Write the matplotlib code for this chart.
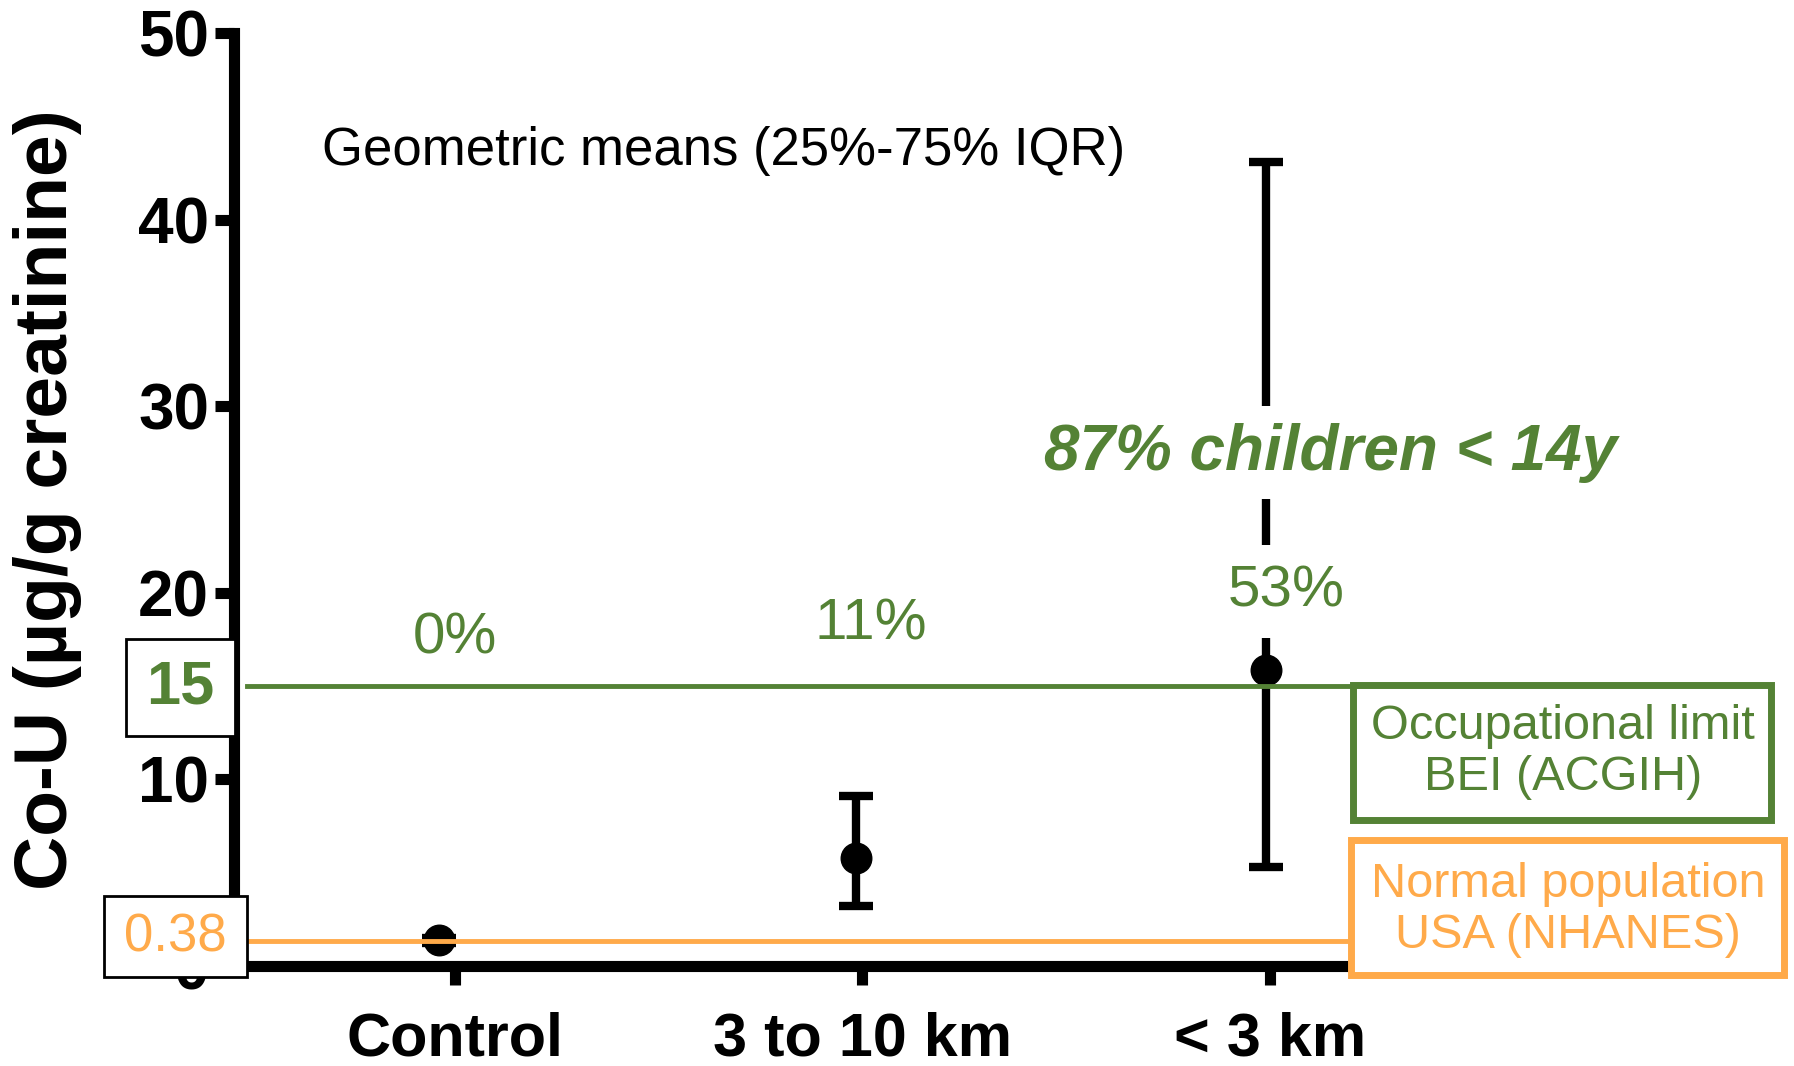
import matplotlib
matplotlib.use('Agg')
import matplotlib.pyplot as plt
from matplotlib.patches import Rectangle
import numpy as np

plt.rcParams['font.family'] = ['Liberation Sans', 'DejaVu Sans']

# данные (геометрические средние и IQR)
groups = ['Control', '3 to 10 km', '< 3 km']
geo_means = [1.37, 5.8, 15.84]
q25 = [1.25, 3.23, 5.3]
q75 = [1.5, 9.13, 43.1]
x_shift = [-0.04, -0.015, -0.01]
pct_labels = ['0%', '11%', '53%']
pct_x = [0.0, 1.02, 2.04]
pct_y = [17.56, 18.3, 20.07]
yticks = [0, 10, 20, 30, 40, 50]
bei_limit = 15
nhanes_label = '0.38'
nhanes_y = 1.35

green = '#548235'
orange = '#FFAA4A'
W, H = 1794, 1066

fig = plt.figure(figsize=(W / 100, H / 100), dpi=100)
ax = fig.add_axes([234 / W, 0.0938, 0.7057, 0.8752])

x = np.arange(len(groups)) + np.array(x_shift)
m = np.array(geo_means)
err = [m - np.array(q25), np.array(q75) - m]
ax.errorbar(x, m, yerr=err, fmt='o', color='black', ms=22,
            elinewidth=6, capsize=12, capthick=6, zorder=3)

# линии: BEI и NHANES
ax.plot([-0.51, 2.3], [bei_limit, bei_limit], color=green, lw=3.5,
        clip_on=False, zorder=4)
ax.plot([-0.51, 2.3], [nhanes_y, nhanes_y], color=orange, lw=3.5,
        clip_on=False, zorder=4)

# подписи процентов (белый фон разрывает планку погрешности)
for px, py, t in zip(pct_x, pct_y, pct_labels):
    pad = 14 if t == '53%' else 1
    ax.text(px, py, t, color=green, fontsize=42, ha='center', va='center',
            zorder=5, bbox=dict(fc='white', ec='none', pad=pad))
ax.text(2.15, 27.5, '87% children < 14y', color=green, fontsize=46,
        fontweight='bold', fontstyle='italic', ha='center', va='center',
        zorder=5, bbox=dict(fc='white', ec='none', pad=12))
ax.text(0.66, 43.7, 'Geometric means (25%-75% IQR)', fontsize=38,
        ha='center', va='center')

ax.set_xlim(-0.542, 2.565)
ax.set_ylim(0, 50)
ax.set_xticks(np.arange(len(groups)))
ax.set_xticklabels(groups)
ax.set_yticks(yticks)
ax.spines['top'].set_visible(False)
ax.spines['right'].set_visible(False)
for s in ['left', 'bottom']:
    ax.spines[s].set_linewidth(8)
ax.tick_params(axis='both', length=14, width=8)
ax.tick_params(axis='y', labelsize=46, pad=4)
ax.tick_params(axis='x', labelsize=44, pad=19)
for lab in ax.get_xticklabels() + ax.get_yticklabels():
    lab.set_fontweight('bold')

fig.text(48 / W, 0.531, 'Co-U (µg/g creatinine)', rotation=90,
         fontsize=54, fontweight='bold', ha='center', va='center')


# рамки с подписями, координаты в пикселях
def box(x0, y0, x1, y1, ec, lw):
    fig.add_artist(Rectangle((x0 / W, 1 - y1 / H), (x1 - x0) / W,
                             (y1 - y0) / H, transform=fig.transFigure,
                             fc='white', ec=ec, lw=lw, zorder=5))


box(126, 639, 235, 736, 'black', 2)
fig.text(180 / W, 1 - 688 / H, str(bei_limit), color=green, fontsize=44,
         fontweight='bold', ha='center', va='center', zorder=6)
box(104, 896, 247, 977, 'black', 2)
fig.text(175 / W, 1 - 937 / H, nhanes_label, color=orange, fontsize=38,
         ha='center', va='center', zorder=6)

box(1352.5, 684.5, 1770.5, 819.5, green, 5)
fig.text(1563 / W, 1 - 752 / H, 'Occupational limit\nBEI (ACGIH)',
         color=green, fontsize=35, ha='center', va='center',
         linespacing=1.15, zorder=6)
box(1350.5, 839.5, 1783.5, 974.5, orange, 5)
fig.text(1568 / W, 1 - 910 / H, 'Normal population\nUSA (NHANES)',
         color=orange, fontsize=35, ha='center', va='center',
         linespacing=1.15, zorder=6)

fig.savefig('out.png', dpi=100)
